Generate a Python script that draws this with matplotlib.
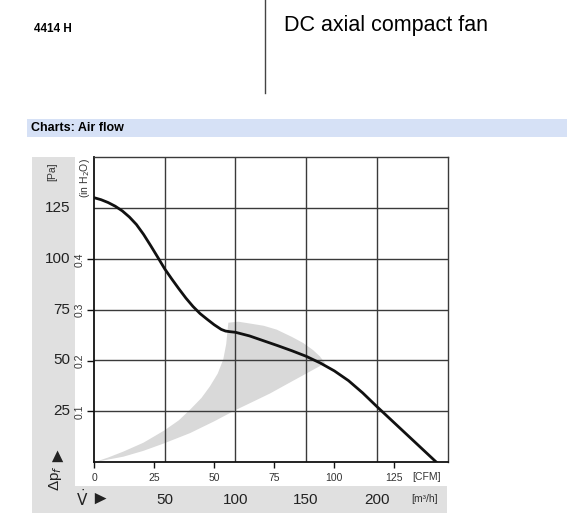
import matplotlib
matplotlib.use("Agg")
import matplotlib.pyplot as plt
from matplotlib.patches import Rectangle
from matplotlib.lines import Line2D

plt.rcParams['font.family'] = ['Liberation Sans', 'DejaVu Sans']

# fan curve: volume flow [m3/h] vs static pressure [Pa]
flow = [0, 5, 10, 15, 20, 25, 30, 35, 40, 45, 50, 55, 60, 65, 70, 75, 80, 85,
        90, 93, 96, 100, 110, 120, 130, 140, 150, 160, 170, 180, 190, 200,
        210, 220, 230, 242]
pressure = [130, 129, 127.6, 125.8, 123.5, 120.5, 116.8, 112, 106.5, 100.8,
            95, 90, 85.2, 80.6, 76.5, 73, 70.2, 67.5, 65.2, 64.4, 64.1, 63.8,
            62, 59.6, 57.2, 54.7, 52, 48.7, 44.8, 40, 34, 27.3, 20.8, 14.3,
            7.8, 0]

# grey operating range band (outline, counter-clockwise from origin)
band_flow = [0.7, 10, 20.7, 35, 49.7, 60, 67.9, 76, 82, 87.5, 91.4, 93.5, 95,
             102, 110.3, 120, 129.2, 140, 148, 155, 159.8, 163.4,
             158, 150.4, 137, 124.5, 112, 99.7, 85, 67.9, 49.7, 35, 20.7, 0.7]
band_pressure = [0, 2.2, 5.1, 9.5, 15.5, 20.5, 25.7, 31.5, 37.2, 43.5, 50.4, 58, 68.5,
                 69, 68.1, 67, 65.1, 61.5, 58.5, 55, 51.9, 48.6,
                 46.5, 43.6, 38.5, 33.7, 29.5, 25.4, 20, 14.2, 9.2, 5.5, 2.6, 0]

pa_ticks = [25, 50, 75, 100, 125]
m3h_ticks = [50, 100, 150, 200]
cfm_ticks = [0, 25, 50, 75, 100, 125]
inh2o_ticks = [0.1, 0.2, 0.3, 0.4]

W, H = 567, 516
fig = plt.figure(figsize=(W / 100, H / 100), dpi=100)


def fx(x):
    return x / W


def fy(y):
    return 1 - y / H


# header
fig.text(fx(34), fy(29), "4414 H", fontsize=8.5, fontweight='bold', va='center')
fig.add_artist(Line2D([fx(265), fx(265)], [fy(0), fy(93)], color='#444444', lw=1))
fig.text(fx(284), fy(25), "DC axial compact fan", fontsize=15.5, va='center')
fig.add_artist(Rectangle((fx(27), fy(137)), fx(540), 18 / H, color='#d6e1f6', lw=0))
fig.text(fx(31), fy(128), "Charts: Air flow", fontsize=9, fontweight='bold', va='center')

# grey label panels
fig.add_artist(Rectangle((fx(32), fy(513)), fx(43), 356 / H, color='#e0e0e0', lw=0, zorder=0))
fig.add_artist(Rectangle((fx(32), fy(513)), fx(415), 27 / H, color='#e0e0e0', lw=0, zorder=0))

ax = fig.add_axes([fx(94), 54 / H, 353.5 / W, 305 / H])
ax.set_xlim(0, 250)
ax.set_ylim(0, 150)
ax.patch.set_alpha(0)

ax.fill(band_flow, band_pressure, color='#d9d9d9', lw=0, zorder=1)
for q in m3h_ticks:
    ax.axvline(q, color='#3a3a3a', lw=1, zorder=2)
for p in pa_ticks:
    ax.axhline(p, color='#3a3a3a', lw=1, zorder=2)
ax.plot(flow, pressure, color='#111111', lw=2, zorder=3)

for side in ['top', 'right']:
    ax.spines[side].set_color('#3a3a3a')
    ax.spines[side].set_linewidth(1)
for side in ['left', 'bottom']:
    ax.spines[side].set_color('#111111')
    ax.spines[side].set_linewidth(1.3)

# inner ticks: in H2O on the left, CFM on the bottom
ax.set_yticks([v * 249.09 for v in inh2o_ticks])
ax.set_yticklabels([str(v) for v in inh2o_ticks], rotation=90, va='center',
                   fontsize=7.5, color='#333333')
ax.set_xticks([v * 1.699 for v in cfm_ticks])
ax.set_xticklabels([str(v) for v in cfm_ticks], fontsize=7.5, color='#333333')
ax.tick_params(axis='y', length=5, width=1, pad=1.5, color='#111111')
ax.tick_params(axis='x', length=4, width=1, pad=4, color='#111111')

ytr = ax.get_yaxis_transform()
xtr = ax.get_xaxis_transform()
for p in pa_ticks:
    ax.text(-24 / 353.5, p, str(p), transform=ytr, ha='right', va='center',
            fontsize=11, color='#222222')
for q in m3h_ticks:
    ax.text(q, -37.5 / 305, str(q), transform=xtr, ha='center', va='center',
            fontsize=11, color='#222222')

fig.text(fx(412), fy(477), "[CFM]", fontsize=7.5, color='#333333', va='center')
fig.text(fx(411), fy(499), "[m³/h]", fontsize=7.5, color='#333333', va='center')
fig.text(fx(52), fy(172), "[Pa]", fontsize=7.5, color='#333333', rotation=90,
         ha='center', va='center')
fig.text(fx(85), fy(178), "(in H$_2$O)", fontsize=7.5, color='#333333', rotation=90,
         ha='center', va='center')
# axis names with arrows
fig.text(fx(55), fy(478), "Δp$_f$", fontsize=11, color='#222222', rotation=90,
         ha='center', va='center')
fig.text(fx(55), fy(452), "►", fontsize=14, color='#222222', rotation=90,
         ha='center', va='center')
fig.text(fx(76), fy(499), r"$\dot{\mathrm{V}}$", fontsize=11, color='#222222',
         ha='left', va='center')
fig.text(fx(90), fy(499), "►", fontsize=14, color='#222222',
         ha='left', va='center')

fig.savefig("out.png", dpi=100)
